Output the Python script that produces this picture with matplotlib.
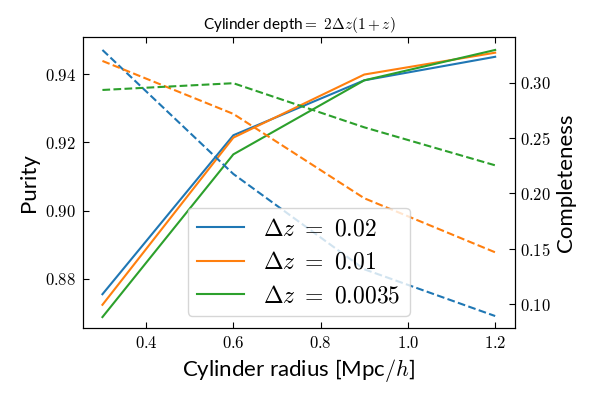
import matplotlib
matplotlib.use('Agg')
import matplotlib.pyplot as plt
from matplotlib.ticker import FuncFormatter

plt.rcParams['font.family'] = ['Lato', 'DejaVu Sans']
plt.rcParams['mathtext.fontset'] = 'cm'

# cylinder radius in Mpc/h
radius = [0.3, 0.6, 0.9, 1.2]
labels = [r'$\Delta z\ =\ 0.02$', r'$\Delta z\ =\ 0.01$', r'$\Delta z\ =\ 0.0035$']
colors = ['#1f77b4', '#ff7f0e', '#2ca02c']

# purity (solid, left axis)
purity_002 = [0.8755, 0.9221, 0.9382, 0.9451]
purity_001 = [0.8724, 0.9214, 0.9399, 0.9463]
purity_00035 = [0.8688, 0.9165, 0.9382, 0.9471]

# completeness (dashed, right axis)
compl_002 = [0.3295, 0.2176, 0.1316, 0.0894]
compl_001 = [0.3196, 0.2718, 0.1957, 0.1469]
compl_00035 = [0.2934, 0.2995, 0.2597, 0.2254]

purity = [purity_002, purity_001, purity_00035]
completeness = [compl_002, compl_001, compl_00035]

fig = plt.figure(figsize=(6, 4), dpi=100)
ax = fig.add_axes([0.138, 0.18, 0.72, 0.7275])
ax2 = ax.twinx()

handles = []
for p, c, col, lab in zip(purity, completeness, colors, labels):
    h, = ax.plot(radius, p, color=col, lw=1.5, label=lab)
    ax2.plot(radius, c, color=col, lw=1.5, ls='--')
    handles.append(h)

ax.set_ylim(0.8656, 0.9509)
ax2.set_ylim(0.0786, 0.3412)
ax.set_yticks([0.88, 0.90, 0.92, 0.94])
ax2.set_yticks([0.10, 0.15, 0.20, 0.25, 0.30])
ax.set_xticks([0.4, 0.6, 0.8, 1.0, 1.2])

ax.xaxis.set_major_formatter(FuncFormatter(lambda v, pos: r'$%.1f$' % v))
ax.yaxis.set_major_formatter(FuncFormatter(lambda v, pos: r'$%.2f$' % v))
ax2.yaxis.set_major_formatter(FuncFormatter(lambda v, pos: r'$%.2f$' % v))

ax.tick_params(direction='in', top=True, labelsize=12, length=4, pad=5)
ax2.tick_params(direction='in', labelsize=12, length=4)

ax.set_xlabel(r'Cylinder radius [Mpc$/h$]', fontsize=16)
ax.set_ylabel('Purity', fontsize=16)
ax2.set_ylabel('Completeness', fontsize=16)
ax.set_title(r'Cylinder depth$=\ 2\Delta z(1+z)$', fontsize=11)

ax2.legend(handles=handles, loc='lower center', fontsize=17)

plt.savefig('out.png', dpi=100)
